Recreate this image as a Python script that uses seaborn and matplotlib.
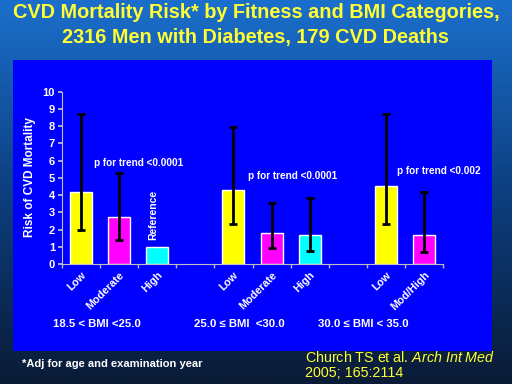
import numpy as np
import pandas as pd
import matplotlib
matplotlib.use("Agg")
import matplotlib.pyplot as plt
from matplotlib.colors import LinearSegmentedColormap
from matplotlib.patches import Rectangle
import seaborn as sns

# categories along the x axis (gaps separate the BMI groups)
slots = ["L1", "M1", "H1", "gap1", "L2", "M2", "H2", "gap2", "L3", "MH3"]
tick_labels = ["Low", "Moderate", "High", "", "Low", "Moderate", "High", "", "Low", "Mod/High"]

# bars drawn
bar_slots = ["L1", "M1", "H1", "L2", "M2", "H2", "L3", "MH3"]
fitness = ["Low", "Moderate", "High", "Low", "Moderate", "High", "Low", "Mod/High"]
risk = [4.2, 2.7, 1.0, 4.3, 1.8, 1.7, 4.5, 1.7]
ci_low = [2.0, 1.4, np.nan, 2.3, 0.95, 0.77, 2.3, 0.7]
ci_high = [8.7, 5.3, np.nan, 7.95, 3.55, 3.85, 8.7, 4.2]

bmi_groups = ["18.5 < BMI <25.0", "25.0 \u2264 BMI  <30.0", "30.0 \u2264 BMI < 35.0"]
trend_labels = ["p for trend <0.0001", "p for trend <0.0001", "p for trend <0.002"]

palette = {"Low": "#FFFF00", "Moderate": "#FF00FF", "High": "#00FFFF", "Mod/High": "#FF00FF"}

sns.set_theme(style="white")
plt.rcParams["font.family"] = ["Liberation Sans", "DejaVu Sans"]
plt.rcParams["mathtext.fontset"] = "custom"
plt.rcParams["mathtext.rm"] = "Liberation Sans"
plt.rcParams["mathtext.it"] = "Liberation Sans:italic"

fig = plt.figure(figsize=(5.12, 3.84), dpi=100)

# slide background: vertical gradient
bg = fig.add_axes([0, 0, 1, 1], zorder=-10)
grad = np.linspace(0, 1, 256).reshape(-1, 1)
cmap = LinearSegmentedColormap.from_list("slide", ["#1B6FCC", "#0D3F80", "#0A1B36"])
bg.imshow(grad, aspect="auto", cmap=cmap, extent=[0, 1, 0, 1], origin="upper")
bg.set_axis_off()

# blue chart panel
fig.patches.append(Rectangle((13 / 512, 1 - 351 / 384), (492 - 13) / 512, (351 - 60) / 384,
                             transform=fig.transFigure, facecolor="#0000FF",
                             edgecolor="none", zorder=-5))

ax = fig.add_axes([62 / 512, 120 / 384, (443 - 62) / 512, (292.3 - 120) / 384])
ax.set_facecolor("none")

df = pd.DataFrame({"slot": bar_slots, "fitness": fitness, "risk": risk})
sns.barplot(data=df, x="slot", y="risk", hue="fitness", order=slots, palette=palette,
            dodge=False, width=0.58, saturation=1, legend=False, ax=ax)

pos = np.array([slots.index(s) for s in bar_slots])
risk_a = np.array(risk)
lo = np.array(ci_low)
hi = np.array(ci_high)
ok = ~np.isnan(lo)
ax.errorbar(pos[ok], risk_a[ok], yerr=[risk_a[ok] - lo[ok], hi[ok] - risk_a[ok]],
            fmt="none", ecolor="black", elinewidth=2, capsize=3, capthick=2, zorder=5)

ax.set_xlim(-0.5, len(slots) - 0.5)
ax.set_ylim(0, 10)
ax.set_yticks(range(0, 11))
ax.set_xlabel("")
ax.set_ylabel("")

# labels at bar centres, tick marks between bars
ax.set_xticks(range(len(slots)))
ax.set_xticklabels(tick_labels, rotation=45, ha="right", rotation_mode="anchor",
                   color="white", fontsize=7.8, fontweight="bold")
ax.tick_params(axis="x", which="major", length=0, pad=4)
ax.set_xticks(np.arange(-0.5, len(slots)), minor=True)
ax.tick_params(axis="x", which="minor", length=3, color="#C0C0C0", direction="out", bottom=True)
ax.tick_params(axis="y", length=3, color="#C0C0C0", direction="out", left=True,
               labelcolor="white", labelsize=8, pad=2)
for lab in ax.get_yticklabels():
    lab.set_fontweight("bold")

sns.despine(ax=ax)
for side in ["left", "bottom"]:
    ax.spines[side].set_color("#C0C0C0")
    ax.spines[side].set_linewidth(0.8)

# annotations
ax.text(1.5, 5.85, trend_labels[0], color="white", fontsize=7.2, fontweight="bold", ha="center", va="center")
ax.text(5.55, 5.1, trend_labels[1], color="white", fontsize=7.2, fontweight="bold", ha="center", va="center")
ax.text(9.4, 5.4, trend_labels[2], color="white", fontsize=7.2, fontweight="bold", ha="center", va="center",
        clip_on=False)
ax.text(1.9, 2.85, "Reference", color="white", fontsize=7.5, fontweight="bold", rotation=90,
        ha="center", va="center")

fig.text(30 / 512, 1 - 177 / 384, "Risk of CVD Mortality", rotation=90, color="white",
         fontsize=8.5, fontweight="bold", ha="center", va="center")

for xc, txt in zip([97, 239, 363], bmi_groups):
    fig.text(xc / 512, 1 - 324 / 384, txt, color="white", fontsize=8.2, fontweight="bold",
             ha="center", va="center")

# title
fig.text(0.5, 1 - 13 / 384, "CVD Mortality Risk* by Fitness and BMI Categories,",
         color="#FFFF33", fontsize=14.3, fontweight="bold", ha="center", va="center")
fig.text(0.5, 1 - 38 / 384, "2316 Men with Diabetes, 179 CVD Deaths",
         color="#FFFF33", fontsize=14.3, fontweight="bold", ha="center", va="center")

# footnotes
fig.text(22 / 512, 1 - 364 / 384, "*Adj for age and examination year", color="white",
         fontsize=8, fontweight="bold", ha="left", va="center")
fig.text(305 / 512, 1 - 357 / 384, "Church TS et al. $\\it{Arch\\ Int\\ Med}$", color="#FFFF33",
         fontsize=10.3, ha="left", va="center")
fig.text(305 / 512, 1 - 373 / 384, "2005; 165:2114", color="#FFFF33",
         fontsize=10.3, ha="left", va="center")

fig.savefig("out.png", dpi=100)
